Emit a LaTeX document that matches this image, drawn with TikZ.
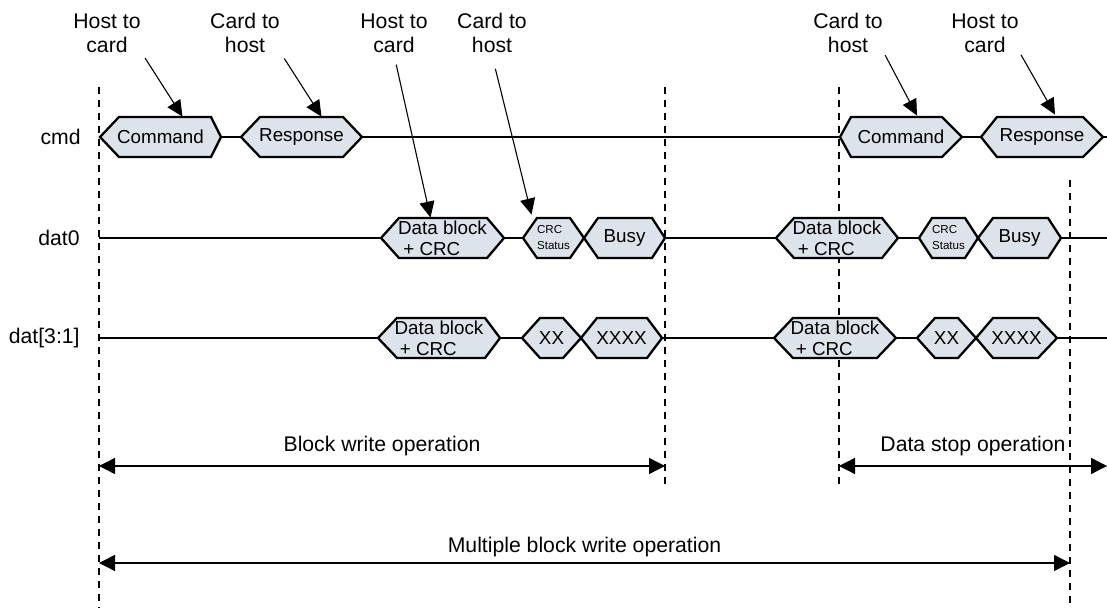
\documentclass[tikz,border=0pt]{standalone}
\usepackage{fontspec}
\setmainfont{Liberation Sans}
\usetikzlibrary{arrows.meta,calc}

\definecolor{sigfill}{RGB}{221,227,234}

% hexagon: [opts]{name}{y}{left point}{top left}{top right}{right point}{text}
\newcommand{\sigbox}[8][]{%
  \draw[sighex] (#4,#3) -- (#5,#3-20) -- (#6,#3-20) -- (#7,#3)
                -- (#6,#3+20) -- (#5,#3+20) -- cycle;
  \node[sigtext,#1] (#2) at ({(#4+#7)/2},#3) {#8};
  \coordinate (#2-l) at (#4,#3);
  \coordinate (#2-r) at (#7,#3);
}

\begin{document}
\begin{tikzpicture}[
  x=0.5pt, y=-0.5pt,
  sighex/.style={draw, fill=sigfill, line width=1.15pt},
  sigtext/.style={inner sep=0pt, minimum height=20pt, align=center,
                  font=\fontsize{9.4}{10.5}\selectfont},
  tinytext/.style={align=left, font=\fontsize{5.8}{8}\selectfont},
  lbl/.style={inner sep=1pt, align=center, font=\fontsize{10.6}{12}\selectfont},
  wire/.style={line width=1.2pt},
  ptr/.style={-{Triangle[length=8pt,width=7.5pt]}, line width=0.55pt},
  oparrow/.style={{Triangle[length=8pt,width=8pt]}-{Triangle[length=8pt,width=8pt]},
                  line width=0.7pt},
  guide/.style={dash pattern=on 3.5pt off 3pt, line width=0.65pt}
]
\useasboundingbox (0,0) rectangle (1107,608);

% time marks
\draw[guide] (99,87)   -- (99,608);
\draw[guide] (665,87)  -- (665,490);
\draw[guide] (839,87)  -- (839,490);
\draw[guide] (1070,180) -- (1070,608);

% signal names
\node[lbl, anchor=east] (cmdname) at (83,137) {cmd};
\node[lbl, anchor=east] (d0name)  at (82,238) {dat0};
\node[lbl, anchor=east] (d31name) at (82,338) {dat[3:1]};

% cmd
\sigbox{cmdA}{137}{100}{119}{211}{221}{Command}
\sigbox{rspA}{137}{241}{260}{343}{362}{Response}
\sigbox{cmdB}{137}{840}{851}{942}{962}{Command}
\sigbox{rspB}{137}{981}{997}{1083}{1103}{Response}
\coordinate (cmdend) at (1107,137);
\draw[wire] (cmdA-r) -- (rspA-l) (rspA-r) -- (cmdB-l)
            (cmdB-r) -- (rspB-l) (rspB-r) -- (cmdend);

% dat0
\coordinate (d0start) at (99,238);
\sigbox[align=left]{blkA}{238}{381}{399}{487}{504}{Data block\\\ + CRC}
\sigbox[tinytext]{crcA}{238}{523}{537}{570}{584}{CRC\\Status}
\sigbox{bsyA}{238}{584}{598}{652}{665}{Busy}
\sigbox[align=left]{blkB}{238}{776}{794}{882}{898}{Data block\\\ + CRC}
\sigbox[tinytext]{crcB}{238}{919}{932}{965}{978}{CRC\\Status}
\sigbox{bsyB}{238}{978}{993}{1048}{1061}{Busy}
\coordinate (d0end) at (1107,238);
\draw[wire] (d0start) -- (blkA-l) (blkA-r) -- (crcA-l) (bsyA-r) -- (blkB-l)
            (blkB-r) -- (crcB-l) (bsyB-r) -- (d0end);

% dat[3:1]
\coordinate (d31start) at (99,338);
\sigbox[align=left]{blkC}{338}{378}{397}{485}{500}{Data block\\\ + CRC}
\sigbox{xxA}{338}{522}{540}{563}{581}{XX}
\sigbox{xxxxA}{338}{581}{597}{647}{662}{XXXX}
\sigbox[align=left]{blkD}{338}{774}{793}{877}{896}{Data block\\\ + CRC}
\sigbox{xxB}{338}{917}{935}{958}{976}{XX}
\sigbox{xxxxB}{338}{976}{993}{1038}{1057}{XXXX}
\coordinate (d31end) at (1107,338);
\draw[wire] (d31start) -- (blkC-l) (blkC-r) -- (xxA-l) (xxxxA-r) -- (blkD-l)
            (blkD-r) -- (xxB-l) (xxxxB-r) -- (d31end);

% direction labels
\node[lbl] (tA) at (107,33) {Host to\\card};
\node[lbl] (tB) at (245,33) {Card to\\host};
\node[lbl] (tC) at (394,33) {Host to\\card};
\node[lbl] (tD) at (492,33) {Card to\\host};
\node[lbl] (tE) at (848,33) {Card to\\host};
\node[lbl] (tF) at (985,33) {Host to\\card};
\draw[ptr, shorten <=2pt] (tA.south east) -- ($(cmdA.north)+(22,0)$);
\draw[ptr, shorten <=2pt] (tB.south east) -- ($(rspA.north)+(20,0)$);
\draw[ptr, shorten <=5pt] (tC.south) -- ($(blkA.north)+(-12,0)$);
\draw[ptr, shorten <=7pt] (tD.south) -- ($(crcA.north)+(-22,-3)$);
\draw[ptr] (tE.south east) -- ($(cmdB.north)+(16,-1)$);
\draw[ptr] (tF.south east) -- ($(rspB.north)+(13,-2)$);

% operations
\coordinate (bwL) at (99,466);  \coordinate (bwR) at (665,466);
\coordinate (dsL) at (839,466); \coordinate (dsR) at (1107,466);
\coordinate (mbL) at (99,563);  \coordinate (mbR) at (1070,563);
\draw[oparrow] (bwL) -- node[lbl, above=3.8pt] (bwlbl) {Block write operation} (bwR);
\draw[oparrow] (dsL) -- node[lbl, above=3.8pt] (dslbl) {Data stop operation} (dsR);
\draw[oparrow] (mbL) -- node[lbl, above=1.8pt] (mblbl) {Multiple block write operation} (mbR);
\end{tikzpicture}
\end{document}
